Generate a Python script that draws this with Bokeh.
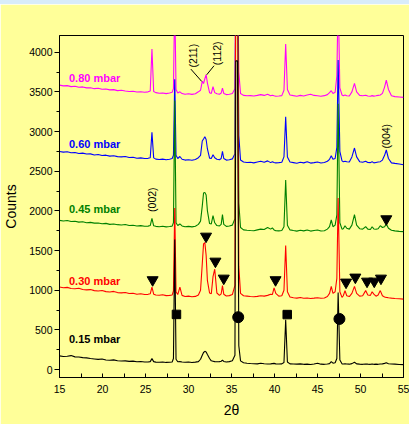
import math
from bokeh.plotting import figure
from bokeh.models import Div, Range1d, FixedTicker
from bokeh.layouts import column
from bokeh.core.properties import value
from bokeh.embed import file_html
from bokeh.resources import INLINE

# ---------------- data ----------------
two_theta = [
    15.0, 15.45, 15.9, 16.35, 16.8, 17.25, 17.7, 18.15, 18.6, 19.05, 19.5, 19.95,
    20.4, 20.85, 21.3, 21.75, 22.2, 22.65, 23.1, 23.55, 24.0, 24.45, 24.9, 25.3,
    25.55, 25.75, 25.95, 26.2, 26.6, 27.0, 27.4, 27.8, 28.1,
    28.25, 28.4, 28.55, 28.75, 29.0, 29.25, 29.6, 30.0, 30.4, 30.8, 31.15,
    31.4, 31.6, 31.75, 31.9, 32.05, 32.2, 32.45, 32.65, 32.85, 33.05, 33.3, 33.6,
    33.8, 33.95, 34.1, 34.4, 34.75, 35.1, 35.4,
    35.5, 35.7, 35.85, 36.05, 36.4, 36.8, 37.2, 37.6, 38.0, 38.4, 38.8, 39.2,
    39.55, 39.75, 39.95, 40.15, 40.5, 40.85, 41.1,
    41.3, 41.5, 41.8, 42.2, 42.6, 43.0, 43.4, 43.8, 44.2, 44.6, 45.0, 45.4,
    45.8, 46.15, 46.4, 46.6, 46.8, 47.05, 47.25,
    47.4, 47.6, 47.85, 48.0, 48.2, 48.4, 48.7, 49.0, 49.3, 49.55, 49.9, 50.25,
    50.6, 50.85, 51.15, 51.35, 51.55, 51.8, 52.05, 52.3, 52.55, 52.8, 53.0, 53.25,
    53.6, 54.0, 54.5, 55.0,
]

counts_015 = [
    172, 165, 168, 176, 160, 158, 150, 147, 140, 134, 128, 133,
    120, 118, 122, 112, 108, 110, 103, 106, 98, 101, 96, 95,
    100, 138, 100, 94, 92, 96, 90, 92, 95,
    140, 1640, 130, 98, 100, 95, 92, 95, 90, 94, 100,
    130, 180, 215, 230, 222, 190, 140, 110, 105, 100, 98, 100,
    105, 118, 102, 96, 100, 110, 180,
    3890, 3890, 300, 110, 85, 80, 76, 74, 72, 80, 74, 70,
    72, 75, 78, 72, 70, 72, 90,
    626, 95, 72, 70, 68, 72, 66, 68, 64, 70, 80, 68,
    66, 70, 75, 100, 80, 85, 140,
    970, 120, 72, 70, 74, 70, 68, 75, 92, 72, 68, 66,
    70, 68, 66, 70, 66, 68, 66, 70, 72, 78, 85, 74,
    70, 68, 64, 62,
]

counts_030 = [
    1040, 1032, 1036, 1022, 1018, 1024, 1010, 1004, 1008, 995, 990, 996,
    982, 978, 985, 970, 966, 972, 958, 962, 950, 955, 946, 948,
    955, 1040, 950, 940, 936, 942, 932, 935, 940,
    990, 2035, 980, 945, 1040, 935, 920, 925, 918, 922, 940,
    1000, 1330, 1585, 1600, 1440, 1120, 965, 955, 1170, 1265, 965, 935,
    955, 1058, 950, 928, 932, 945, 1060,
    5200, 5200, 1300, 960, 930, 925, 920, 918, 922, 930, 926, 935,
    950, 945, 1029, 960, 925, 930, 1000,
    1562, 980, 915, 905, 900, 908, 898, 902, 895, 900, 906, 898,
    902, 920, 960, 1049, 960, 980, 1150,
    2162, 980, 910, 930, 995, 930, 920, 960, 1049, 960, 925, 930,
    995, 940, 935, 980, 950, 925, 940, 995, 930, 915, 910, 905,
    900, 895, 892, 888,
]

counts_045 = [
    1880, 1872, 1878, 1865, 1870, 1858, 1862, 1850, 1855, 1845, 1848, 1838,
    1842, 1830, 1835, 1826, 1822, 1828, 1815, 1818, 1810, 1814, 1806, 1808,
    1815, 1905, 1812, 1805, 1800, 1806, 1798, 1802, 1808,
    1850, 3390, 1850, 1815, 1835, 1810, 1800, 1805, 1798, 1806, 1830,
    1870, 2060, 2225, 2233, 2200, 2000, 1840, 1835, 1940, 1850, 1815, 1810,
    1830, 1952, 1830, 1805, 1810, 1820, 1900,
    5200, 5200, 2100, 1790, 1760, 1755, 1752, 1750, 1760, 1770, 1765, 1790,
    1770, 1785, 1760, 1750, 1748, 1752, 1800,
    2389, 1820, 1760, 1752, 1745, 1755, 1748, 1760, 1745, 1752, 1758, 1746,
    1750, 1770, 1800, 1885, 1800, 1820, 1950,
    3350, 1850, 1770, 1775, 1813, 1780, 1770, 1820, 1952, 1820, 1775, 1770,
    1800, 1770, 1765, 1800, 1772, 1768, 1775, 1813, 1790, 1800, 1835, 1780,
    1755, 1748, 1742, 1738,
]

counts_060 = [
    2748, 2740, 2745, 2732, 2736, 2722, 2728, 2716, 2718, 2705, 2710, 2698,
    2702, 2690, 2694, 2684, 2680, 2686, 2672, 2676, 2664, 2668, 2660, 2662,
    2670, 2990, 2668, 2652, 2648, 2652, 2645, 2650, 2660,
    2700, 3660, 2700, 2660, 2685, 2650, 2640, 2645, 2638, 2648, 2670,
    2700, 2880, 2905, 2935, 2900, 2780, 2665, 2660, 2708, 2670, 2650, 2645,
    2660, 2749, 2660, 2640, 2645, 2655, 2720,
    5200, 5200, 2950, 2640, 2615, 2610, 2612, 2605, 2615, 2625, 2612, 2630,
    2608, 2620, 2610, 2605, 2608, 2612, 2680,
    3186, 2680, 2615, 2608, 2600, 2612, 2605, 2618, 2602, 2608, 2615, 2604,
    2610, 2625, 2650, 2695, 2650, 2660, 2800,
    3900, 2750, 2630, 2620, 2625, 2618, 2615, 2680, 2792, 2680, 2620, 2612,
    2625, 2610, 2608, 2620, 2605, 2610, 2615, 2620, 2640, 2700, 2767, 2660,
    2605, 2598, 2590, 2582,
]

counts_080 = [
    3585, 3575, 3578, 3566, 3570, 3558, 3562, 3550, 3552, 3540, 3545, 3532,
    3536, 3525, 3528, 3515, 3520, 3510, 3505, 3508, 3498, 3502, 3495, 3500,
    3510, 4040, 3505, 3490, 3482, 3486, 3478, 3485, 3495,
    3540, 4700, 3530, 3485, 3500, 3478, 3470, 3475, 3468, 3476, 3500,
    3520, 3632, 3605, 3665, 3715, 3610, 3490, 3480, 3564, 3490, 3475, 3470,
    3485, 3548, 3480, 3465, 3470, 3478, 3540,
    5200, 5200, 3750, 3480, 3455, 3450, 3452, 3448, 3455, 3465, 3455, 3470,
    3450, 3458, 3450, 3445, 3448, 3452, 3520,
    4102, 3530, 3460, 3452, 3445, 3455, 3448, 3460, 3470, 3455, 3450, 3445,
    3452, 3465, 3490, 3514, 3480, 3495, 3700,
    4700, 3550, 3460, 3452, 3460, 3450, 3448, 3500, 3606, 3500, 3455, 3450,
    3458, 3448, 3445, 3452, 3446, 3450, 3455, 3460, 3480, 3560, 3648, 3530,
    3450, 3440, 3435, 3430,
]

series_names = ["0.80 mbar", "0.60 mbar", "0.45 mbar", "0.30 mbar", "0.15 mbar"]
series_colors = ["#FF00FF", "#0000FF", "#008000", "#FF0000", "#000000"]
series_label_x = [16.1, 16.1, 16.1, 16.1, 16.1]
series_label_y = [3678, 2843, 2024, 1121, 387]

x_ticks = [15, 20, 25, 30, 35, 40, 45, 50, 55]
x_minor = [17.5, 22.5, 27.5, 32.5, 37.5, 42.5, 47.5, 52.5]
y_ticks = [0, 500, 1000, 1500, 2000, 2500, 3000, 3500, 4000]
y_minor = [250, 750, 1250, 1750, 2250, 2750, 3250, 3750]

# phase markers
tri_x = [25.83, 32.04, 33.13, 34.1, 40.12, 48.32, 49.4, 50.76, 51.6, 52.38, 53.0]
tri_y = [1130, 1679, 1364, 1150, 1130, 1100, 1163, 1112, 1112, 1150, 1898]
square_x = [28.6, 41.48]
square_y = [695, 693]
circle_x = [35.78, 47.55]
circle_y = [660, 638]

# Miller index annotations
hkl_text = ["(211)", "(112)", "(002)", "(004)"]
hkl_x = [30.47, 33.28, 25.78, 53.0]
hkl_y = [3955, 3986, 2141, 2941]
lead_x0 = [30.27, 32.97]
lead_y0 = [3787, 3829]
lead_x1 = [31.54, 32.12]
lead_y1 = [3631, 3715]

# ---------------- figure ----------------
BG = "#FFFF99"
p = figure(width=409, height=420, output_backend="svg", toolbar_location=None,
           x_range=Range1d(15, 55), y_range=Range1d(-100, 4210),
           min_border_left=58, min_border_right=6, min_border_top=31, min_border_bottom=47)
p.background_fill_color = BG
p.border_fill_color = BG
p.outline_line_color = "black"
p.outline_line_width = 1
p.grid.visible = False

curves = [counts_080, counts_060, counts_045, counts_030, counts_015]
for ys, c in zip(curves, series_colors):
    p.line(two_theta, ys, line_color=c, line_width=1.1)

p.text(x=series_label_x, y=series_label_y, text=series_names,
       text_color=series_colors, text_font=value("Liberation Sans"),
       text_font_style="bold", text_font_size="11px",
       text_baseline="middle", text_align="left")

p.scatter(tri_x, tri_y, marker="inverted_triangle", size=11, color="black")
p.scatter(square_x, square_y, marker="square", size=8.5, color="black")
p.scatter(circle_x, circle_y, marker="circle", size=11, color="black")

p.text(x=hkl_x, y=hkl_y, text=hkl_text, angle=math.pi / 2,
       text_font=value("Liberation Sans"), text_font_size="10.5px",
       text_color="black", text_align="center", text_baseline="middle")
p.segment(x0=lead_x0, y0=lead_y0, x1=lead_x1, y1=lead_y1, line_color="black", line_width=1)

# axes
p.xaxis.ticker = FixedTicker(ticks=x_ticks, minor_ticks=x_minor)
p.yaxis.ticker = FixedTicker(ticks=y_ticks, minor_ticks=y_minor)
for ax in (p.xaxis[0], p.yaxis[0]):
    ax.axis_line_color = "black"
    ax.major_tick_line_color = "black"
    ax.minor_tick_line_color = "black"
    ax.major_label_text_font = "Liberation Sans"
    ax.major_label_text_font_size = "10.5px"
    ax.major_label_text_color = "black"
    ax.axis_label_text_font = "Liberation Sans"
    ax.axis_label_text_font_size = "14px"
    ax.axis_label_text_font_style = "normal"
    ax.axis_label_text_color = "black"

p.xaxis.major_tick_in = 4
p.xaxis.major_tick_out = 0
p.xaxis.minor_tick_in = 4
p.xaxis.minor_tick_out = 0
p.xaxis.major_label_standoff = 7
p.xaxis.axis_label = "2θ"
p.xaxis.axis_label_standoff = 6

p.yaxis.major_tick_in = 0
p.yaxis.major_tick_out = 5
p.yaxis.minor_tick_in = 0
p.yaxis.minor_tick_out = 3
p.yaxis.major_label_standoff = 2
p.yaxis.axis_label = "Counts"
p.yaxis.axis_label_standoff = 7

band = Div(text="", width=409, height=4, margin=0,
           styles={"background-color": "#D8ECFA"})
p.margin = 0
layout = column(band, p, spacing=0, margin=0)

open("out.html", "w").write(file_html(layout, INLINE))
